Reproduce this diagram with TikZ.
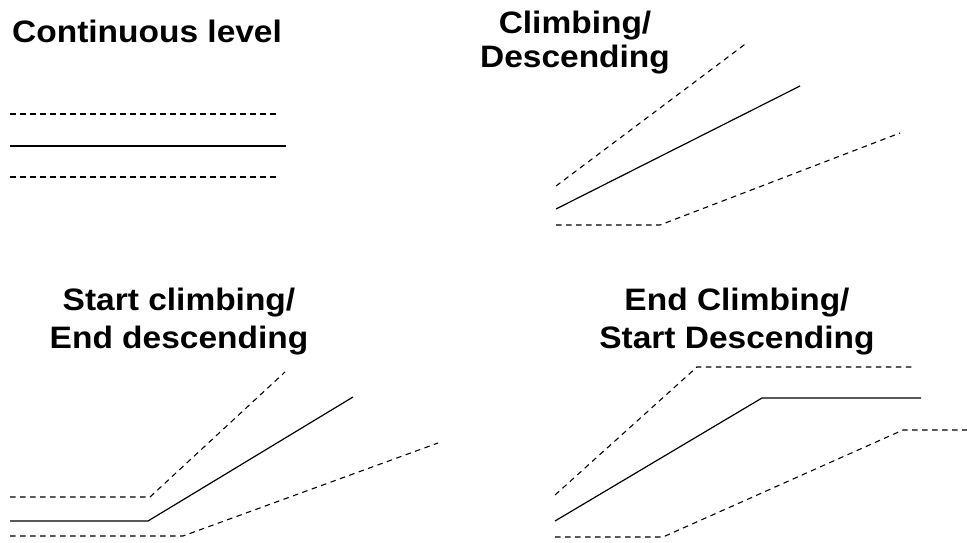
\documentclass[tikz,border=0pt]{standalone}
\usepackage{fontspec}
\newfontfamily\headfont{Liberation Sans}[FakeStretch=1.08]

\begin{document}
\begin{tikzpicture}[x=1pt, y=-1pt,
    every node/.style={inner sep=0pt, font=\headfont\bfseries\fontsize{31}{38}\selectfont},
    band/.style={line width=1.1pt, dash pattern=on 5.5pt off 4.5pt},
    track/.style={line width=1.2pt}]
  \useasboundingbox (0,0) rectangle (967,543);
  % level flight
  \node[anchor=base west] (level) at (12,42.5) {Continuous level};
  \draw[band] (10,114) -- (280,114);
  \draw[track] (10,146) -- (286,146);
  \draw[band] (10,177) -- (280,177);
  % steady climb or descent
  \node[anchor=north, align=center, font=\headfont\bfseries\fontsize{31}{34}\selectfont] (climb) at (575,10.4) {Climbing/\\Descending};
  \draw[band] (556,186) -- (748,42);
  \draw[track] (556,209) -- (800,86);
  \draw[band] (556,225) -- (660,225) -- (900,133);
  % level, then up
  \node[anchor=north, align=center] (startclimb) at (179,287.4) {Start climbing/\\End descending};
  \draw[band] (10,497) -- (150,497) -- (285,372);
  \draw[track] (10,521) -- (148,521) -- (353,397);
  \draw[band] (10,536) -- (183,536) -- (438,443);
  % up, then level
  \node[anchor=north, align=center] (endclimb) at (737,287.4) {End Climbing/\\Start Descending};
  \draw[band] (555,495) -- (697,367) -- (912,367);
  \draw[track] (555,521) -- (762,398) -- (921,398);
  \draw[band] (555,537) -- (663,537) -- (903,430) -- (967,430);
\end{tikzpicture}
\end{document}
